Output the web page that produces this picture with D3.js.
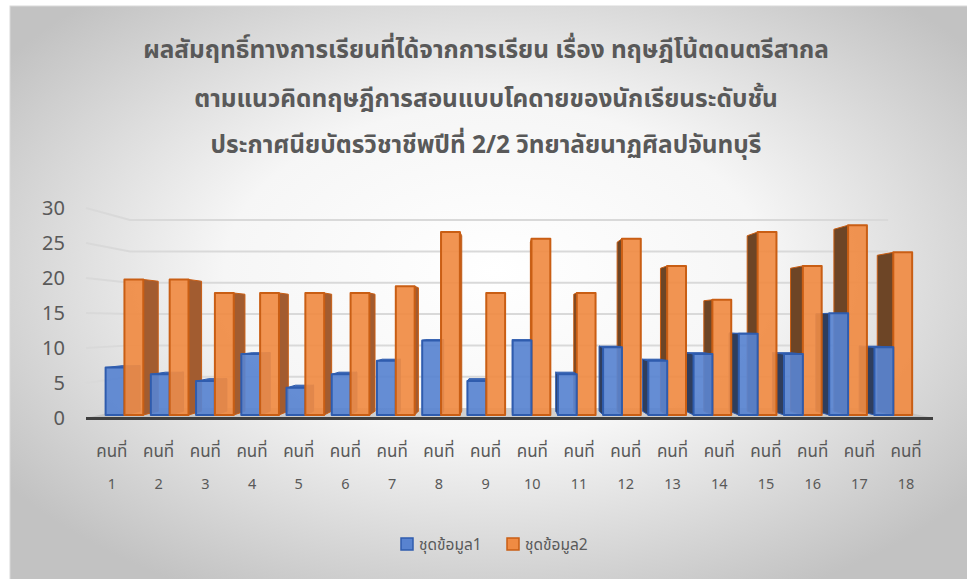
<!DOCTYPE html>
<html>
<head>
<meta charset="utf-8">
<script src="https://cdn.jsdelivr.net/npm/d3@7"></script>
<style>
  html, body { margin: 0; padding: 0; background: #ffffff; }
  svg { display: block; }
  text { font-family: "Noto Sans Thai", "Noto Sans", "DejaVu Sans", sans-serif; }
</style>
</head>
<body>
<svg id="chart" width="967" height="579"></svg>
<script>
// ---- data ----
const titleLines = [
  "ผลสัมฤทธิ์ทางการเรียนที่ได้จากการเรียน เรื่อง ทฤษฎีโน้ตดนตรีสากล",
  "ตามแนวคิดทฤษฎีการสอนแบบโคดายของนักเรียนระดับชั้น",
  "ประกาศนียบัตรวิชาชีพปีที่ 2/2 วิทยาลัยนาฏศิลปจันทบุรี"
];
const categories = [
  "คนที่ 1", "คนที่ 2", "คนที่ 3", "คนที่ 4", "คนที่ 5", "คนที่ 6",
  "คนที่ 7", "คนที่ 8", "คนที่ 9", "คนที่ 10", "คนที่ 11", "คนที่ 12",
  "คนที่ 13", "คนที่ 14", "คนที่ 15", "คนที่ 16", "คนที่ 17", "คนที่ 18"
];
const seriesNames = ["ชุดข้อมูล1", "ชุดข้อมูล2"];
const series1 = [7, 6, 5, 9, 4, 6, 8, 11, 5, 11, 6, 10, 8, 9, 12, 9, 15, 10];
const series2 = [20, 20, 18, 18, 18, 18, 19, 27, 18, 26, 18, 26, 22, 17, 27, 22, 28, 24];
const yTicks = [0, 5, 10, 15, 20, 25, 30];

// ---- 3D look: simple one-point perspective ----
const eye = { x: 505, y: 323 };          // vanishing point
const depthFront = 1.0;                   // front edge of the floor
const depthBarFront = 0.968;              // front faces of the columns
const depthBarBack = 0.928;               // back faces of the columns
const depthWall = 0.895;                  // back wall

function project(X, Y, s) {
  return [eye.x + (X - eye.x) * s, eye.y + (Y - eye.y) * s];
}
function poly(points) {
  return "M" + points.map(p => p[0].toFixed(2) + "," + p[1].toFixed(2)).join("L") + "Z";
}

const svg = d3.select("#chart");
const defs = svg.append("defs");

// background panel with soft radial shading
const bg = defs.append("radialGradient").attr("id", "panelGrad")
  .attr("cx", "50%").attr("cy", "45%").attr("r", "62%");
bg.append("stop").attr("offset", "0%").attr("stop-color", "#ffffff");
bg.append("stop").attr("offset", "45%").attr("stop-color", "#f6f6f6");
bg.append("stop").attr("offset", "100%").attr("stop-color", "#c2c2c2");

svg.append("rect").attr("x", 0).attr("y", 0).attr("width", 967).attr("height", 579).attr("fill", "#ffffff");
svg.append("rect").attr("x", 10).attr("y", 6).attr("width", 970).attr("height", 590)
  .attr("fill", "url(#panelGrad)").attr("stroke", "#d9d9d9").attr("stroke-width", 1);

// ---- scales (front plane coordinates) ----
const x = d3.scaleBand().domain(categories).range([88.5, 929.5]).padding(0);
const xSeries = d3.scaleBand().domain(seriesNames).range([0, x.bandwidth()]).paddingInner(0).paddingOuter(0.2);
const y = d3.scaleLinear().domain([0, 30]).range([418, 208]);
const floorLeft = 86, floorRight = 933;

// ---- walls: gridlines ----
const grid = svg.append("g").attr("class", "grid");
yTicks.filter(t => t > 0).forEach(t => {
  const a = project(floorLeft, y(t), depthFront);
  const b = project(floorLeft, y(t), depthWall);
  const c = project(floorRight, y(t), depthWall);
  grid.append("path")
    .attr("d", `M${a[0]},${a[1]}L${b[0]},${b[1]}L${c[0]},${c[1]}`)
    .attr("fill", "none").attr("stroke", "#d9d9d9").attr("stroke-width", 2);
});

// ---- floor ----
const floorPts = [
  project(floorLeft, y(0), depthFront), project(floorRight, y(0), depthFront),
  project(floorRight, y(0), depthWall), project(floorLeft, y(0), depthWall)
];
svg.append("path").attr("d", poly(floorPts)).attr("fill", "#b5b5b5").attr("fill-opacity", 0.6);

// ---- columns ----
const styles = {
  "ชุดข้อมูล1": { front: "#5883d0", top: "#3e68b6", sideR: "#3d5a94", sideL: "#2f3e5e", edge: "#2f5cae" },
  "ชุดข้อมูล2": { front: "#f08b43", top: "#d9712a", sideR: "#a25c30", sideL: "#6d4526", edge: "#c95e14" }
};

const bars = [];
categories.forEach((c, i) => {
  [series1, series2].forEach((vals, k) => {
    const name = seriesNames[k];
    const x0 = x(c) + xSeries(name);
    const x1 = x0 + xSeries.bandwidth();
    bars.push({ cat: c, name, value: vals[i], x0, x1, mid: (x0 + x1) / 2 });
  });
});
// paint columns farthest from the vanishing line first
bars.sort((a, b) => Math.abs(b.mid - eye.x) - Math.abs(a.mid - eye.x));

const gBars = svg.append("g").attr("class", "columns");
bars.forEach(b => {
  const st = styles[b.name];
  const Y0 = y(0), Y1 = y(b.value);
  const g = gBars.append("g");
  // side face
  if (b.x1 < eye.x) {
    g.append("path").attr("d", poly([
      project(b.x1, Y0, depthBarFront), project(b.x1, Y1, depthBarFront),
      project(b.x1, Y1, depthBarBack), project(b.x1, Y0, depthBarBack)
    ])).attr("fill", st.sideR).attr("stroke", st.edge).attr("stroke-width", 1).attr("stroke-linejoin", "round");
  } else if (b.x0 > eye.x) {
    g.append("path").attr("d", poly([
      project(b.x0, Y0, depthBarFront), project(b.x0, Y1, depthBarFront),
      project(b.x0, Y1, depthBarBack), project(b.x0, Y0, depthBarBack)
    ])).attr("fill", st.sideL).attr("stroke", st.edge).attr("stroke-width", 1).attr("stroke-linejoin", "round");
  }
  // top face (only visible below eye level)
  const ft = project(b.x0, Y1, depthBarFront);
  if (ft[1] > eye.y) {
    g.append("path").attr("d", poly([
      project(b.x0, Y1, depthBarFront), project(b.x1, Y1, depthBarFront),
      project(b.x1, Y1, depthBarBack), project(b.x0, Y1, depthBarBack)
    ])).attr("fill", st.top).attr("stroke", st.edge).attr("stroke-width", 1).attr("stroke-linejoin", "round");
  }
  // front face
  g.append("path").attr("d", poly([
    project(b.x0, Y0, depthBarFront), project(b.x1, Y0, depthBarFront),
    project(b.x1, Y1, depthBarFront), project(b.x0, Y1, depthBarFront)
  ])).attr("fill", st.front).attr("fill-opacity", 0.92)
    .attr("stroke", st.edge).attr("stroke-width", 2).attr("stroke-linejoin", "round");
});

// front edge of the floor
svg.append("line")
  .attr("x1", floorLeft).attr("x2", floorRight).attr("y1", y(0) + 0.5).attr("y2", y(0) + 0.5)
  .attr("stroke", "#3f3f3f").attr("stroke-width", 3);

// ---- value axis ----
const yAxis = svg.append("g").attr("class", "y-axis");
yTicks.forEach(t => {
  yAxis.append("text").attr("x", 65).attr("y", y(t)).attr("dy", "0.36em")
    .attr("text-anchor", "end").attr("font-size", 20).attr("fill", "#595959").text(t);
});

// ---- category axis (two-line labels) ----
const xAxis = svg.append("g").attr("class", "x-axis");
categories.forEach(c => {
  const parts = c.split(" ");
  const cx = x(c) + x.bandwidth() / 2;
  xAxis.append("text").attr("x", cx).attr("y", 457).attr("text-anchor", "middle")
    .attr("font-size", 17).attr("fill", "#595959").text(parts[0]);
  xAxis.append("text").attr("x", cx).attr("y", 489).attr("text-anchor", "middle")
    .attr("font-size", 14.5).attr("fill", "#595959").text(parts[1]);
});

// ---- title ----
const titleY = [58, 107, 153];
titleLines.forEach((t, i) => {
  svg.append("text").attr("x", 486).attr("y", titleY[i]).attr("text-anchor", "middle")
    .attr("font-size", 24.4).attr("font-weight", "bold").attr("fill", "#595959").text(t);
});

// ---- legend ----
const legend = svg.append("g").attr("class", "legend");
const legendX = [401, 507];
seriesNames.forEach((n, i) => {
  const st = styles[n];
  legend.append("rect").attr("x", legendX[i]).attr("y", 538).attr("width", 12).attr("height", 12)
    .attr("fill", st.front).attr("stroke", st.edge).attr("stroke-width", 1.5);
  legend.append("text").attr("x", legendX[i] + 18).attr("y", 550)
    .attr("font-size", 15.5).attr("fill", "#595959").text(n);
});
</script>
</body>
</html>
